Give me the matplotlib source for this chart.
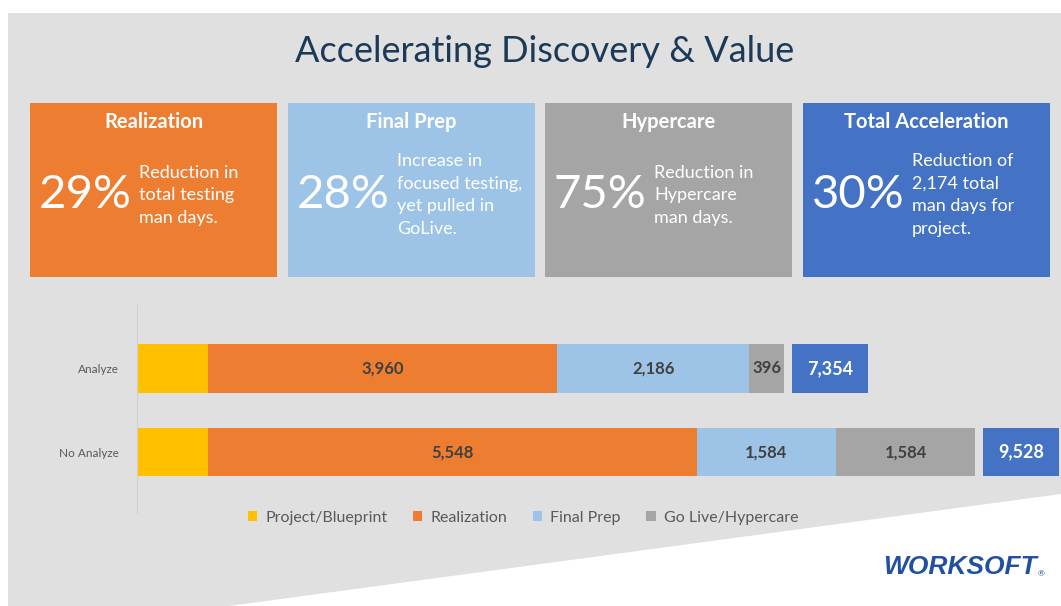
import numpy as np
import matplotlib.pyplot as plt
from matplotlib.patches import Rectangle, Polygon

# ---------------- data ----------------
categories = ['No Analyze', 'Analyze']
project_blueprint = [812, 812]
realization = [5548, 3960]
final_prep = [1584, 2186]
go_live = [1584, 396]
totals = [9528, 7354]

series_names = ['Project/Blueprint', 'Realization', 'Final Prep', 'Go Live/Hypercare']
series_colors = ['#FFC000', '#ED7D31', '#9DC3E6', '#A5A5A5']

card_titles = ['Realization', 'Final Prep', 'Hypercare', 'Total Acceleration']
card_pcts = ['29%', '28%', '75%', '30%']
card_texts = ['Reduction in\ntotal testing\nman days.',
              'Increase in\nfocused testing,\nyet pulled in\nGoLive.',
              'Reduction in\nHypercare\nman days.',
              'Reduction of\n2,174 total\nman days for\nproject.']
card_colors = ['#ED7D31', '#9DC3E6', '#A5A5A5', '#4472C4']

plt.rcParams['font.family'] = ['Lato', 'DejaVu Sans']

W, H = 1061, 606
fig = plt.figure(figsize=(W / 100, H / 100), dpi=100)
fig.patch.set_facecolor('white')


def fx(x):
    return x / W


def fy(y):
    return 1 - y / H


# grey slide background with diagonal cut
bg = Polygon([(fx(8), fy(13)), (fx(1061), fy(13)), (fx(1061), fy(494)),
              (fx(229), fy(606)), (fx(8), fy(606))],
             closed=True, transform=fig.transFigure, facecolor='#E0E0E0',
             edgecolor='none', zorder=-5)
fig.patches.append(bg)

fig.text(fx(545), fy(51), 'Accelerating Discovery & Value', ha='center', va='center',
         fontsize=26, color='#1B3A57')

# ---------------- cards ----------------
card_left = [30, 288, 545, 803]
card_w, card_top, card_bot = 247, 103, 277
for i in range(4):
    x0 = card_left[i]
    fig.patches.append(Rectangle((fx(x0), fy(card_bot)), card_w / W, (card_bot - card_top) / H,
                                 transform=fig.transFigure, facecolor=card_colors[i],
                                 edgecolor='none', zorder=-4))
    fig.text(fx(x0 + card_w / 2), fy(122), card_titles[i], ha='center', va='center',
             fontsize=14.5, fontweight='bold', color='white')
    fig.text(fx(x0 + 9), fy(195), card_pcts[i], ha='left', va='center',
             fontsize=34, color='white')
    fig.text(fx(x0 + 109), fy(195), card_texts[i], ha='left', va='center',
             fontsize=13, color='white', linespacing=1.5)

# ---------------- stacked bars ----------------
ax = fig.add_axes([fx(137), fy(513), (W - 137) / W, (513 - 305) / H])
ax.set_facecolor('none')
y = np.arange(len(categories))
h = 0.58
left = np.zeros(len(categories))
for name, vals, col in zip(series_names,
                           [project_blueprint, realization, final_prep, go_live],
                           series_colors):
    vals = np.array(vals, dtype=float)
    ax.barh(y, vals, left=left, height=h, color=col, label=name)
    if name != 'Project/Blueprint':
        for yi, (l, v) in enumerate(zip(left, vals)):
            ax.text(l + v / 2, yi, f'{int(v):,}', ha='center', va='center',
                    fontsize=12, fontweight='bold', color='#404040')
    left += vals

# total boxes to the right of each bar
gap, box_w = 90, 860
ax.barh(y, box_w, left=np.array(totals) + gap, height=h, color='#4472C4')
for yi, t in enumerate(totals):
    ax.text(t + gap + box_w / 2, yi, f'{t:,}', ha='center', va='center',
            fontsize=13, fontweight='bold', color='white')

ax.set_xlim(0, 10500)
ax.set_ylim(-0.73, 1.76)
ax.set_yticks(y)
ax.set_yticklabels(categories, fontsize=8.5, color='#595959')
ax.tick_params(axis='y', length=0, pad=13)
ax.set_xticks([])
for s in ['top', 'right', 'bottom']:
    ax.spines[s].set_visible(False)
ax.spines['left'].set_color('#D0D0D0')

handles, labels = ax.get_legend_handles_labels()
fig.legend(handles, labels, loc='center', bbox_to_anchor=(fx(523), fy(518)), ncol=4,
           frameon=False, fontsize=11.5, labelcolor='#595959', handlelength=0.6,
           handleheight=0.6, handletextpad=0.5, columnspacing=1.6)

# logo
fig.text(fx(1037), fy(567), 'WORKSOFT', ha='right', va='center', fontsize=19,
         fontweight='heavy', fontstyle='italic', color='#2150A0',
         family=['Liberation Sans', 'DejaVu Sans'])
fig.text(fx(1038), fy(574), '®', ha='left', va='center', fontsize=6, color='#2150A0')

plt.savefig('out.png', dpi=100, facecolor=fig.get_facecolor())
